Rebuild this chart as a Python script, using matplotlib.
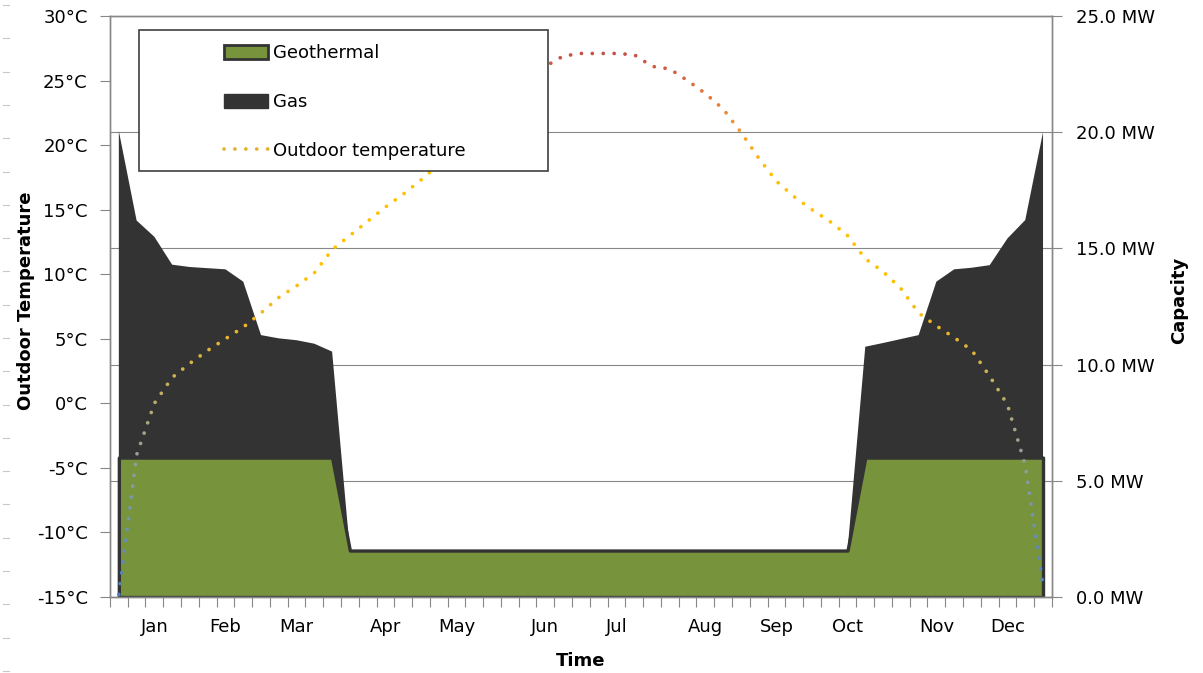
import numpy as np
import matplotlib
matplotlib.use('Agg')
import matplotlib.pyplot as plt
from matplotlib.patches import Patch, Rectangle
from matplotlib.lines import Line2D
from matplotlib.colors import LinearSegmentedColormap, Normalize
from matplotlib.ticker import NullFormatter

# weekly values, 53 weeks
geothermal = [6, 6, 6, 6, 6, 6, 6, 6, 6, 6, 6, 6, 6,
              2, 2, 2, 2, 2, 2, 2, 2, 2, 2, 2, 2, 2, 2, 2, 2, 2, 2, 2, 2, 2, 2, 2, 2, 2, 2, 2, 2, 2,
              6, 6, 6, 6, 6, 6, 6, 6, 6, 6, 6]
gas = [14.05, 10.2, 9.5, 8.3, 8.2, 8.15, 8.1, 7.57, 5.27, 5.13, 5.05, 4.9, 4.56,
       0, 0, 0, 0, 0, 0, 0, 0, 0, 0, 0, 0, 0, 0, 0, 0, 0, 0, 0, 0, 0, 0, 0, 0, 0, 0, 0, 0, 0,
       4.77, 4.93, 5.1, 5.27, 7.57, 8.1, 8.17, 8.28, 9.43, 10.22, 14.0]
temperature = [-14.8, -4.0, 0.0, 2.0, 3.1, 4.1, 5.0, 5.9, 7.0, 8.2, 9.1, 10.1, 11.9,
               13.0, 14.1, 15.2, 16.2, 17.3, 18.5, 19.8, 21.1, 22.4, 23.6, 24.9, 26.1,
               26.9, 27.1, 27.1, 27.1, 27.0, 26.1, 25.9, 25.0, 24.0, 22.8, 21.0, 19.0,
               17.2, 16.0, 15.0, 14.1, 13.0, 11.2, 10.2, 8.9, 7.0, 6.0, 5.1, 4.1, 2.1,
               -0.1, -4.8, -14.1]
month_labels = ['Jan', 'Feb', 'Mar', 'Apr', 'May', 'Jun', 'Jul', 'Aug', 'Sep', 'Oct', 'Nov', 'Dec']
month_weeks = [2, 6, 10, 15, 19, 24, 28, 33, 37, 41, 46, 50]
temp_ticks = [-15, -10, -5, 0, 5, 10, 15, 20, 25, 30]
mw_ticks = [0, 5, 10, 15, 20, 25]

green = '#77933c'
dark = '#333333'
grey = '#878787'

weeks = np.arange(len(temperature))
total = np.array(geothermal) + np.array(gas)

fig = plt.figure(figsize=(12.03, 6.73), dpi=100)
ax = fig.add_axes([0.0914, 0.1129, 0.7830, 0.8633])
ax2 = ax.twinx()
ax.set_zorder(ax2.get_zorder() + 1)
ax.patch.set_visible(False)

# capacity areas on the right axis
ax2.set_axisbelow(True)
ax2.yaxis.grid(True, color=grey, lw=0.8)
ax2.fill_between(weeks, geothermal, total, facecolor=dark, edgecolor='none', zorder=1)
ax2.fill_between(weeks, 0, geothermal, facecolor=green, edgecolor=dark, lw=2.4, zorder=2)
ax2.set_ylim(0, 25)
ax2.set_yticks(mw_ticks, [f'{v:.1f} MW' for v in mw_ticks])

# temperature line with colour gradient by value
cmap = LinearSegmentedColormap.from_list('temp', [
    (0.0, '#4a7fc0'), (7 / 42, '#7896b0'), (12 / 42, '#9da28e'), (17 / 42, '#c8b25a'),
    (21 / 42, '#f0b622'), (25 / 42, '#ffc000'), (33 / 42, '#ffc000'), (35 / 42, '#f8a82a'),
    (37.5 / 42, '#ea8a34'), (40 / 42, '#dc6a3c'), (1.0, '#c65048')])
norm = Normalize(-15, 27)
dots = (0, (0.01, 2.9))
for t0 in np.arange(-16, 29, 0.5):
    ln, = ax.plot(weeks, temperature, color=cmap(norm(t0 + 0.25)), lw=2.7, linestyle=dots,
                  dash_capstyle='round', zorder=3)
    ln.set_clip_path(Rectangle((-1, t0), 55, 0.5, transform=ax.transData))

ax.set_xlim(-0.5, len(weeks) - 0.5)
ax.set_ylim(-15, 30)
ax.set_yticks(temp_ticks, [f'{v}°C' for v in temp_ticks])
ax.set_xticks(np.arange(-0.5, len(weeks), 1))
ax.xaxis.set_major_formatter(NullFormatter())
ax.set_xticks(month_weeks, month_labels, minor=True)

ax.tick_params(axis='x', which='major', length=7, color=grey, direction='out')
ax.tick_params(axis='x', which='minor', length=0, pad=15, labelsize=13)
ax.tick_params(axis='y', length=7, color=grey, pad=9, labelsize=13)
ax2.tick_params(axis='y', length=7, color=grey, pad=10, labelsize=13)
for a in (ax, ax2):
    for s in a.spines.values():
        s.set_color(grey)
        s.set_linewidth(1)

ax.set_xlabel('Time', fontsize=13, fontweight='bold')
ax.xaxis.set_label_coords(0.5, -0.095)
ax.set_ylabel('Outdoor Temperature', fontsize=13, fontweight='bold')
ax.yaxis.set_label_coords(-0.08, 0.51)
ax2.set_ylabel('Capacity', fontsize=13, fontweight='bold')
ax2.yaxis.set_label_coords(1.125, 0.51)

# legend box
ax.add_patch(Rectangle((0.0308, 0.733), 0.4342, 0.2435, transform=ax.transAxes,
                       facecolor='white', edgecolor='#404040', lw=1.2, zorder=4, clip_on=False))
handles = [Patch(facecolor=green, edgecolor=dark, lw=2),
           Patch(facecolor=dark, edgecolor=dark),
           Line2D([], [], color='#e2b22c', lw=2.7, linestyle=dots, dash_capstyle='round')]
leg = ax.legend(handles, ['Geothermal', 'Gas', 'Outdoor temperature'], loc='upper left',
                bbox_to_anchor=(0.121, 0.951), frameon=False, fontsize=13, handlelength=2.45,
                handleheight=0.85, handletextpad=0.25, labelspacing=1.70, borderpad=0,
                borderaxespad=0)
leg.set_zorder(5)

# faint marks down the left page edge
for yp in np.arange(5, 673, 33.3):
    fig.add_artist(Line2D([3 / 1203, 9 / 1203], [1 - yp / 673, 1 - yp / 673],
                          transform=fig.transFigure, color='#c8c8c8', lw=0.8))

fig.savefig('out.png', dpi=100)
